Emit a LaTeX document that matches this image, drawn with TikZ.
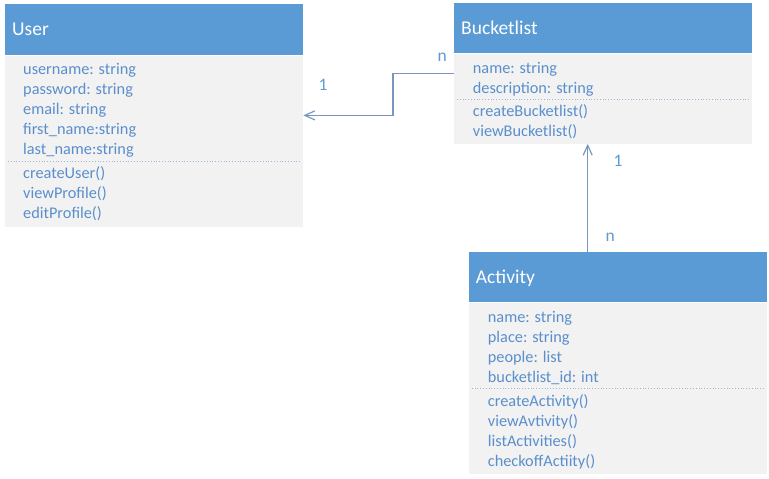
\documentclass[tikz,border=0pt]{standalone}
\usepackage{fontspec}
\setmainfont{Carlito}
\usepackage{tikz}
\usetikzlibrary{arrows.meta}
\definecolor{headblue}{HTML}{5B9BD5}
\definecolor{bodygray}{HTML}{F2F2F2}
\definecolor{fieldblue}{HTML}{5A8FCC}
\definecolor{linkblue}{HTML}{7A96C0}
\definecolor{dotblue}{HTML}{9FB6D6}

\begin{document}
\begin{tikzpicture}[x=1pt, y=-1pt,
        headbox/.style={fill=headblue, text=white, minimum width=298pt, minimum height=51pt, text width=284pt, inner xsep=7pt, align=left, text height=12pt, text depth=0pt, font=\fontsize{19.5}{23}\selectfont, anchor=north west},
        bodybox/.style={fill=bodygray, minimum width=298pt, inner sep=0pt, anchor=north},
        members/.style={anchor=north west, inner sep=0pt, align=left, text=fieldblue, font=\fontsize{16.3}{20}\selectfont},
        sepline/.style={dotted, draw=dotblue, line width=0.8pt},
        mult/.style={anchor=base west, inner sep=0pt, text=headblue, font=\fontsize{17.5}{20}\selectfont},
        arrow/.style={-{Straight Barb[length=10pt,width=9pt]}, draw=linkblue, line width=1.2pt}]

        \useasboundingbox (0,0) rectangle (769,479);

        % User
        \node[headbox] (userhead) at (5,4) {User};
        \node[bodybox, minimum height=171pt] (userbody) at (userhead.south) {};
        \node[members] (userattr) at (23,60) {\strut username: string\\password: string\\email: string\\first\_name:string\\last\_name:string};
        \draw[sepline] ([shift={(3,106)}]userbody.north west) -- ([shift={(-3,106)}]userbody.north east);
        \node[members] (userops) at (23,164) {\strut createUser()\\viewProfile()\\editProfile()};

        % Bucketlist
        \node[headbox, minimum height=50pt] (buckethead) at (454,3) {Bucketlist};
        \node[bodybox, minimum height=90pt] (bucketbody) at (buckethead.south) {};
        \node[members] (bucketattr) at (472.7,59) {\strut name: string\\description: string};
        \draw[sepline] ([shift={(3,46)}]bucketbody.north west) -- ([shift={(-3,46)}]bucketbody.north east);
        \node[members] (bucketops) at (472.7,102) {\strut createBucketlist()\\viewBucketlist()};

        % Activity
        \node[headbox, minimum height=50pt] (acthead) at (468.7,252) {Activity};
        \node[bodybox, minimum height=171pt] (actbody) at (acthead.south) {};
        \node[members] (actattr) at (487.7,308.7) {\strut name: string\\place: string\\people: list\\bucketlist\_id: int};
        \draw[sepline] ([shift={(3,86)}]actbody.north west) -- ([shift={(-3,86)}]actbody.north east);
        \node[members] (actops) at (487.7,392) {\strut createActivity()\\viewAvtivity()\\listActivities()\\checkoffActiity()};

        % associations
        \coordinate (bucketport) at ([shift={(0,20)}]bucketbody.north west);
        \coordinate (userport) at ([shift={(0,60)}]userbody.north east);
        \draw[arrow] (bucketport) -- ++(-61,0) |- (userport);
        \coordinate (actport) at ([shift={(119,0)}]acthead.north west);
        \draw[arrow] (actport) -- (actport |- bucketbody.south);

        \node[mult] (bucketmult) at (437.5,61) {n};
        \node[mult] (usermult) at (318.5,90) {1};
        \node[mult] (upmult) at (613.5,166.7) {1};
        \node[mult] (actmult) at (605.5,241.7) {n};
      \end{tikzpicture}
\end{document}
